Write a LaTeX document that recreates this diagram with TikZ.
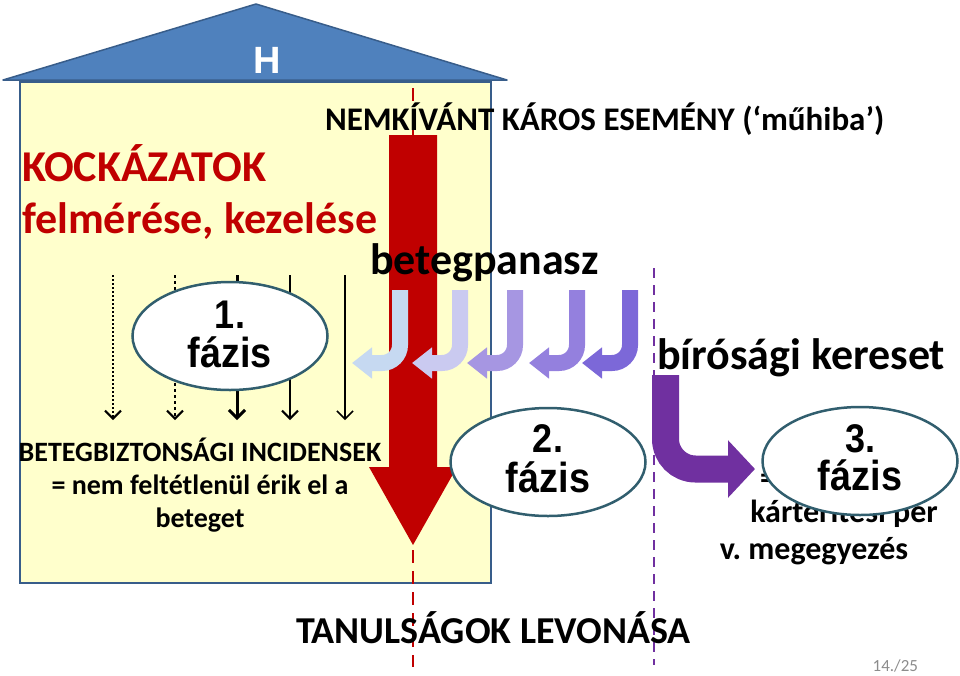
\documentclass[tikz,border=0pt]{standalone}
\usepackage{fontspec}
\setmainfont{Carlito}
\newfontfamily\arialf{Liberation Sans}
\usetikzlibrary{arrows.meta,shapes.geometric}
\definecolor{roofblue}{RGB}{79,129,189}
\definecolor{roofedge}{RGB}{56,93,138}
\definecolor{houseyellow}{RGB}{255,255,204}
\definecolor{darkred}{RGB}{192,0,0}
\definecolor{violet}{RGB}{112,48,160}
\definecolor{jone}{RGB}{198,217,241}
\definecolor{jtwo}{RGB}{202,202,240}
\definecolor{jthree}{RGB}{166,150,226}
\definecolor{jfour}{RGB}{148,128,222}
\definecolor{jfive}{RGB}{124,104,216}
\definecolor{ellipseedge}{RGB}{49,94,110}
\definecolor{pagegray}{RGB}{140,140,140}
\newcommand\myfs[1]{\fontsize{#1}{#1}\selectfont}
\newcommand\narrow[1]{\scalebox{0.9}[1]{#1}}
\frenchspacing
\tikzset{
  txt/.style={inner sep=0pt, outer sep=0pt},
  phase/.style={ellipse, draw=ellipseedge, line width=2.5pt, fill=white, minimum width=195pt, minimum height=108pt, inner sep=0pt},
  phasenum/.style={txt, anchor=base, font=\arialf\bfseries\myfs{40}},
  phaseword/.style={txt, anchor=base, font=\arialf\bfseries\myfs{42}},
  jarrow/.style={line width=16pt, rounded corners=18pt, -{Triangle[length=20pt,width=30pt]}},
  smallarrow/.style={-{Straight Barb[length=8pt,width=16pt]}},
}
\begin{document}
\begin{tikzpicture}[x=1pt,y=-1pt]
\useasboundingbox (0,0) rectangle (960,675);
% house
\draw[roofedge, line width=2pt, fill=houseyellow] (20,82) rectangle (491,583);
\draw[roofedge, line width=1.5pt, fill=roofblue, line join=round] (3,80) -- (256,4) -- (507,80) -- cycle;
\node[txt, font=\arialf\bfseries\myfs{38}, text=white] (H) at (267,60) {H};
% dashed phase lines
\coordinate (rtop) at (413,88);
\coordinate (rbot) at (413,667);
\draw[darkred, line width=2.5pt, dash pattern=on 13pt off 8pt] (rtop) -- (rbot);
\coordinate (ptop) at (654,268);
\coordinate (pbot) at (654,665);
\draw[violet, line width=2pt, dash pattern=on 10pt off 7pt] (ptop) -- (pbot);
% big red arrow
\fill[darkred] (389,135) -- (437,135) -- (437,467) -- (457,467) -- (413,545) -- (369,467) -- (389,467) -- cycle;
% texts
\node[txt, anchor=base west, font=\bfseries\myfs{33}] (event) at (325,130) {NEMKÍVÁNT KÁROS ESEMÉNY (‘műhiba’)};
\node[txt, anchor=base west, font=\bfseries\myfs{44}, text=darkred] (risk1) at (22,181) {KOCKÁZATOK};
\node[txt, anchor=base west, font=\bfseries\myfs{44}, text=darkred] (risk2) at (22,233) {felmérése, kezelése};
\node[txt, anchor=base west, font=\bfseries\myfs{44}] (complaint) at (370,274) {betegpanasz};
% small arrows left
\foreach \x/\n in {113/a,175/b,237/c,290/d,345/e}{
  \coordinate (s\n) at (\x,275);
  \coordinate (t\n) at (\x,420);
}
\draw[smallarrow, line width=2pt, dotted] (sa) -- (ta);
\draw[smallarrow, line width=2pt, dashed] (sb) -- (tb);
\draw[smallarrow, line width=3pt] (sc) -- (tc);
\draw[smallarrow, line width=2pt] (sd) -- (td);
\draw[smallarrow, line width=1.5pt] (se) -- (te);
% J arrows
\foreach \cx/\c/\n in {400/jone/1,460/jtwo/2,515/jthree/3,577/jfour/4,630/jfive/5}{
  \coordinate (js\n) at (\cx,290);
  \coordinate (jc\n) at (\cx,363);
  \coordinate (jt\n) at (\cx-48,363);
  \draw[jarrow, \c] (js\n) -- (jc\n) -- (jt\n);
}
\node[txt, anchor=base west, font=\bfseries\myfs{44}] (court) at (657,369) {bírósági kereset};
% purple arrow
\coordinate (pa1) at (665.5,375);
\coordinate (pa2) at (665.5,469);
\coordinate (pa3) at (755,469);
\draw[violet, line width=27pt, rounded corners=30pt, -{Triangle[length=27pt,width=56pt]}] (pa1) -- (pa2) -- (pa3);
% incident text
\node[txt, anchor=base, font=\bfseries\myfs{28}] (inc1) at (200,461) {BETEGBIZTONSÁGI INCIDENSEK};
\node[txt, anchor=base, font=\bfseries\myfs{28}] (inc2) at (200,494) {= nem feltétlenül érik el a};
\node[txt, anchor=base, font=\bfseries\myfs{28}] (inc3) at (200,527) {beteget};
% phase 3 text (partly hidden)
\node[txt, anchor=base west, font=\bfseries\myfs{32}] (res1) at (760,488) {=};
\node[txt, anchor=base, font=\bfseries\myfs{32}] (res2) at (844,522) {kártérítési per};
\node[txt, anchor=base, font=\bfseries\myfs{32}] (res3) at (814,559) {v. megegyezés};
% phase ellipses
\node[phase] (p1) at (230,336) {};
\node[phasenum] at (230,328) {\narrow{1.}};
\node[phaseword] at (230,367) {\narrow{fázis}};
\node[phase] (p2) at (548,462) {};
\node[phasenum] at (548,452) {\narrow{2.}};
\node[phaseword] at (548,492) {\narrow{fázis}};
\node[phase] (p3) at (860,461) {};
\node[phasenum] at (860,452) {\narrow{3.}};
\node[phaseword] at (860,490) {\narrow{fázis}};
% bottom
\node[txt, anchor=base west, font=\bfseries\myfs{38}] (lesson) at (296,643) {TANULSÁGOK LEVONÁSA};
\node[txt, anchor=base east, font=\myfs{17}, text=pagegray] (page) at (918,671) {14./25};
\end{tikzpicture}
\end{document}
